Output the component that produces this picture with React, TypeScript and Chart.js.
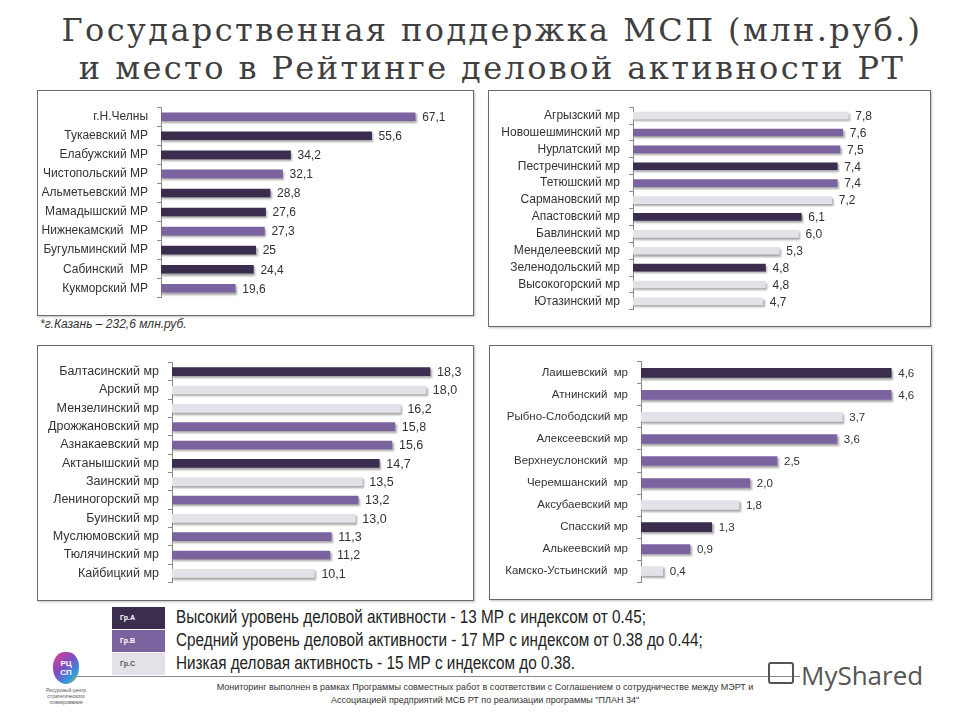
import React, { useEffect, useRef } from "react";
import { Chart, registerables } from "chart.js";

Chart.register(...registerables);

// ---- data ----
const labels1 = ["г.Н.Челны", "Тукаевский МР", "Елабужский МР", "Чистопольский МР", "Альметьевский МР", "Мамадышский МР", "Нижнекамский  МР", "Бугульминский МР", "Сабинский  МР", "Кукморский МР"];
const values1 = [67.1, 55.6, 34.2, 32.1, 28.8, 27.6, 27.3, 25, 24.4, 19.6];
const groups1 = ["B", "A", "A", "B", "A", "A", "B", "A", "A", "B"];

const labels2 = ["Агрызский мр", "Новошешминский мр", "Нурлатский мр", "Пестречинский мр", "Тетюшский мр", "Сармановский мр", "Апастовский мр", "Бавлинский мр", "Менделеевский мр", "Зеленодольский мр", "Высокогорский мр", "Ютазинский мр"];
const values2 = [7.8, 7.6, 7.5, 7.4, 7.4, 7.2, 6.1, 6.0, 5.3, 4.8, 4.8, 4.7];
const groups2 = ["C", "B", "B", "A", "B", "C", "A", "C", "C", "A", "C", "C"];

const labels3 = ["Балтасинский мр", "Арский мр", "Мензелинский мр", "Дрожжановский мр", "Азнакаевский мр", "Актанышский мр", "Заинский мр", "Лениногорский мр", "Буинский мр", "Муслюмовский мр", "Тюлячинский мр", "Кайбицкий мр"];
const values3 = [18.3, 18.0, 16.2, 15.8, 15.6, 14.7, 13.5, 13.2, 13.0, 11.3, 11.2, 10.1];
const groups3 = ["A", "C", "C", "B", "B", "A", "C", "B", "C", "B", "B", "C"];

const labels4 = ["Лаишевский  мр", "Атнинский  мр", "Рыбно-Слободский мр", "Алексеевский мр", "Верхнеуслонский  мр", "Черемшанский  мр", "Аксубаевский мр", "Спасский мр", "Алькеевский мр", "Камско-Устьинский  мр"];
const values4 = [4.6, 4.6, 3.7, 3.6, 2.5, 2.0, 1.8, 1.3, 0.9, 0.4];
const groups4 = ["A", "B", "C", "B", "B", "B", "C", "A", "B", "C"];

const legendCodes = ["Гр.А", "Гр.В", "Гр.С"];
const legendGroups = ["A", "B", "C"];
const legendTexts = [
  "Высокий уровень деловой активности - 13 МР с индексом от 0.45;",
  "Средний уровень деловой активности - 17 МР с индексом от 0.38 до 0.44;",
  "Низкая деловая активность - 15 МР с индексом до 0.38.",
];

const COLORS: Record<string, string> = { A: "#3b2d4e", B: "#7b63a0", C: "#e4e1e9" };
const NARROW = "'Liberation Sans Narrow', 'Arial Narrow', 'Liberation Sans', sans-serif";

const fmtPlain = (v: number) => String(v).replace(".", ",");
const fmtFixed = (v: number) => Number(v).toFixed(1).replace(".", ",");

type Cfg = {
  labels: string[];
  values: number[];
  groups: string[];
  left: number;
  top: number;
  width: number;
  height: number;
  axisW: number;
  max: number;
  pad: { top: number; bottom: number; right: number };
  bar: number;
  fmt: (v: number) => string;
  font: number;
  gap: number;
};

function makeBarPlugin(cfg: Cfg) {
  return {
    id: "barDeco",
    beforeDatasetsDraw(chart: any) {
      const ctx = chart.ctx;
      ctx.save();
      ctx.shadowColor = "rgba(0,0,0,0.35)";
      ctx.shadowOffsetX = 1.5;
      ctx.shadowOffsetY = 2;
      ctx.shadowBlur = 2;
    },
    afterDatasetsDraw(chart: any) {
      const ctx = chart.ctx;
      ctx.restore();
      const meta = chart.getDatasetMeta(0);
      ctx.save();
      ctx.font = `${cfg.font}px ${NARROW}`;
      ctx.fillStyle = "#333";
      ctx.textAlign = "left";
      ctx.textBaseline = "middle";
      meta.data.forEach((el: any, i: number) => {
        ctx.fillText(cfg.fmt(cfg.values[i]), el.x + cfg.gap, el.y + 1);
      });
      ctx.restore();
    },
  };
}

function BarPanel({ cfg }: { cfg: Cfg }) {
  const ref = useRef<HTMLCanvasElement>(null);
  useEffect(() => {
    const chart = new Chart(ref.current!, {
      type: "bar",
      data: {
        labels: cfg.labels,
        datasets: [
          {
            data: cfg.values,
            backgroundColor: cfg.groups.map((g) => COLORS[g]),
            barThickness: cfg.bar,
            borderWidth: 0,
          },
        ],
      },
      options: {
        indexAxis: "y",
        responsive: false,
        animation: false,
        layout: { padding: { top: cfg.pad.top, bottom: cfg.pad.bottom, right: cfg.pad.right, left: 0 } },
        plugins: {
          legend: { display: false },
          tooltip: { enabled: false },
        },
        scales: {
          x: { display: false, min: 0, max: cfg.max },
          y: {
            afterFit: (s: any) => {
              s.width = cfg.axisW;
            },
            grid: { display: true, drawOnChartArea: false, drawTicks: true, tickLength: 4, color: "#8a8a8a", offset: true },
            border: { display: true, color: "#8a8a8a" },
            ticks: { color: "#333", padding: 9, font: { family: NARROW, size: cfg.font } },
          },
        },
      },
      plugins: [makeBarPlugin(cfg)],
    });
    return () => chart.destroy();
  }, [cfg]);
  return (
    <canvas
      ref={ref}
      width={cfg.width}
      height={cfg.height}
      style={{ position: "absolute", left: cfg.left, top: cfg.top, width: cfg.width, height: cfg.height }}
    />
  );
}

const cfg1: Cfg = { labels: labels1, values: values1, groups: groups1, left: 38, top: 91, width: 434, height: 223, axisW: 123, max: 80, pad: { top: 7, bottom: 7, right: 8 }, bar: 8, fmt: fmtPlain, font: 12, gap: 7 };
const cfg2: Cfg = { labels: labels2, values: values2, groups: groups2, left: 489, top: 91, width: 440, height: 235, axisW: 144, max: 10, pad: { top: 6, bottom: 3, right: 20 }, bar: 7, fmt: fmtFixed, font: 12, gap: 7 };
const cfg3: Cfg = { labels: labels3, values: values3, groups: groups3, left: 38, top: 346, width: 434, height: 253, axisW: 134, max: 20, pad: { top: 9, bottom: 6, right: 18 }, bar: 8, fmt: fmtFixed, font: 12.5, gap: 7 };
const cfg4: Cfg = { labels: labels4, values: values4, groups: groups4, left: 490, top: 346, width: 440, height: 252, axisW: 151, max: 5, pad: { top: 7, bottom: 10, right: 17 }, bar: 9, fmt: fmtFixed, font: 11.5, gap: 7 };

const panelStyle = (l: number, t: number, w: number, h: number): React.CSSProperties => ({
  position: "absolute",
  left: l,
  top: t,
  width: w,
  height: h,
  border: "1px solid #6a6a6a",
  boxShadow: "1px 1px 2px rgba(0,0,0,0.25)",
  boxSizing: "border-box",
  background: "#fff",
});

export default function App() {
  return (
    <div style={{ position: "absolute", left: 0, top: 0, width: 960, height: 720, background: "#fff", overflow: "hidden" }}>
      <div
        style={{
          position: "absolute",
          left: 0,
          top: 11,
          width: 984,
          textAlign: "center",
          fontFamily: "'DejaVu Serif', 'Liberation Serif', serif",
          fontSize: 32,
          lineHeight: "38px",
          letterSpacing: 2.4,
          color: "#3f3f3f",
        }}
      >
        <div>Государственная поддержка МСП (млн.руб.)</div>
        <div>и место в Рейтинге деловой активности РТ</div>
      </div>

      <div style={panelStyle(37, 90, 437, 226)} />
      <div style={panelStyle(488, 90, 443, 237)} />
      <div style={panelStyle(37, 345, 437, 256)} />
      <div style={panelStyle(489, 345, 443, 255)} />

      <BarPanel cfg={cfg1} />
      <BarPanel cfg={cfg2} />
      <BarPanel cfg={cfg3} />
      <BarPanel cfg={cfg4} />

      <div style={{ position: "absolute", left: 40, top: 317, fontFamily: NARROW, fontStyle: "italic", fontSize: 12, color: "#333" }}>
        *г.Казань – 232,6 млн.руб.
      </div>

      {legendGroups.map((g, i) => (
        <React.Fragment key={g}>
          <div
            style={{
              position: "absolute",
              left: 112,
              top: 607 + i * 23,
              width: 53,
              height: 22,
              background: COLORS[g],
              color: g === "C" ? "#555" : "#fff",
              fontFamily: "'Liberation Sans', sans-serif",
              fontSize: 7,
              fontWeight: "bold",
              lineHeight: "22px",
              paddingLeft: 8,
              boxSizing: "border-box",
            }}
          >
            {legendCodes[i]}
          </div>
          <div
            style={{
              position: "absolute",
              left: 176,
              top: 606 + i * 23,
              height: 22,
              lineHeight: "22px",
              fontFamily: NARROW,
              fontSize: 18,
              color: "#222",
              whiteSpace: "nowrap",
              transform: "scaleX(0.85)",
              transformOrigin: "0 50%",
            }}
          >
            {legendTexts[i]}
          </div>
        </React.Fragment>
      ))}

      <div style={{ position: "absolute", left: 65, top: 676, width: 735, height: 1, background: "#8a8a8a" }} />

      <div
        style={{
          position: "absolute",
          left: 140,
          top: 681,
          width: 690,
          textAlign: "center",
          fontFamily: NARROW,
          fontSize: 9,
          lineHeight: "13px",
          color: "#333",
        }}
      >
        <div>Мониторинг выполнен в рамках Программы совместных работ в соответствии с Соглашением о сотрудничестве между МЭРТ и</div>
        <div>Ассоциацией предприятий МСБ РТ по реализации программы "ПЛАН 34"</div>
      </div>

      {/* logo */}
      <div
        style={{
          position: "absolute",
          left: 53,
          top: 652,
          width: 26,
          height: 32,
          borderRadius: "45% 45% 50% 50%",
          background: "linear-gradient(135deg, #e8408a 0%, #7a4fc2 45%, #2e9be0 75%, #f5a623 100%)",
          color: "#fff",
          fontFamily: "'Liberation Sans', sans-serif",
          fontWeight: "bold",
          fontSize: 8,
          lineHeight: "9px",
          textAlign: "center",
          paddingTop: 7,
          boxSizing: "border-box",
        }}
      >
        <div>РЦ</div>
        <div>СП</div>
      </div>
      <div
        style={{
          position: "absolute",
          left: 38,
          top: 687,
          width: 56,
          textAlign: "center",
          fontFamily: NARROW,
          fontSize: 5,
          lineHeight: "6px",
          color: "#555",
        }}
      >
        Ресурсный центр стратегического планирования
      </div>

      {/* watermark */}
      <div
        style={{
          position: "absolute",
          left: 768,
          top: 662,
          width: 26,
          height: 22,
          border: "2px solid #555",
          borderRadius: 3,
          boxSizing: "border-box",
        }}
      />
      <div
        style={{
          position: "absolute",
          left: 801,
          top: 657,
          fontFamily: "'Open Sans', 'DejaVu Sans', sans-serif",
          fontSize: 26,
          color: "#555",
        }}
      >
        MyShared
      </div>
    </div>
  );
}
